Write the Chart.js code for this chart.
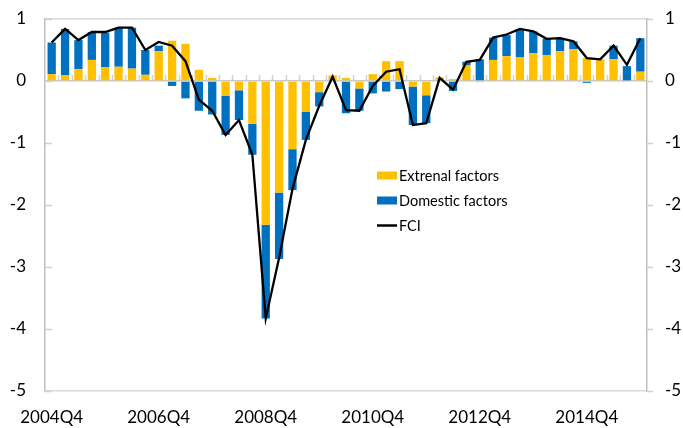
<!DOCTYPE html>
<html>
<head>
<meta charset="utf-8">
<script src="https://cdn.jsdelivr.net/npm/chart.js@4/dist/chart.umd.min.js"></script>
<style>
  body { margin: 0; background: #fff; }
  #wrap { width: 683px; height: 428px; }
</style>
</head>
<body>
<div id="wrap"><canvas id="fci"></canvas></div>
<script>
// quarters 2004Q4 .. 2015Q4
const quarters = [];
for (let y = 2004, q = 4; y < 2016; ) {
  quarters.push(y + 'Q' + q);
  q++;
  if (q > 4) { q = 1; y++; }
}

const externalFactors = [
  0.11, 0.09, 0.19, 0.34, 0.22, 0.23, 0.20, 0.10, 0.48, 0.65,
  0.60, 0.18, 0.05, -0.24, -0.15, -0.69, -2.32, -1.80, -1.10, -0.50,
  -0.18, 0.09, 0.05, -0.12, 0.11, 0.32, 0.32, -0.09, -0.23, 0.06,
  0.03, 0.25, -0.02, 0.34, 0.40, 0.38, 0.45, 0.42, 0.48, 0.51,
  0.37, 0.35, 0.35, 0.01, 0.15,
];

const domesticFactors = [
  0.51, 0.75, 0.47, 0.45, 0.56, 0.63, 0.66, 0.40, 0.09, -0.08,
  -0.28, -0.48, -0.54, -0.63, -0.48, -0.50, -1.51, -1.07, -0.66, -0.45,
  -0.23, 0.00, -0.52, -0.36, -0.20, -0.17, -0.13, -0.62, -0.45, 0.00,
  -0.16, 0.06, 0.35, 0.36, 0.34, 0.46, 0.35, 0.26, 0.20, 0.13,
  -0.03, 0.00, 0.22, 0.23, 0.54,
];

const fci = [
  0.62, 0.84, 0.66, 0.79, 0.79, 0.86, 0.86, 0.50, 0.63, 0.57,
  0.32, -0.30, -0.48, -0.87, -0.63, -1.19, -3.83, -2.85, -1.74, -0.95,
  -0.40, 0.07, -0.47, -0.48, -0.08, 0.15, 0.19, -0.71, -0.68, 0.05,
  -0.14, 0.31, 0.34, 0.70, 0.75, 0.84, 0.80, 0.68, 0.69, 0.64,
  0.37, 0.35, 0.57, 0.26, 0.69,
];

const yTicks = [1, 0, -1, -2, -3, -4, -5];

const YELLOW = '#ffc000';
const BLUE = '#0070c0';
const FONT = 'Lato, "Open Sans", sans-serif';

// small inward/outward tick marks like the spreadsheet axes
const axisMarks = {
  id: 'axisMarks',
  beforeDatasetsDraw(chart) {
    const { ctx, chartArea, scales } = chart;
    const x = scales.x, y = scales.y;
    ctx.save();
    ctx.strokeStyle = '#d0d0d0';
    ctx.lineWidth = 1.5;
    ctx.beginPath();
    yTicks.forEach((v) => {
      const py = Math.round(y.getPixelForValue(v)) + 0.5;
      ctx.moveTo(chartArea.left, py);
      ctx.lineTo(chartArea.left + 7, py);
      ctx.moveTo(chartArea.right, py);
      ctx.lineTo(chartArea.right + 6, py);
    });
    const y0 = Math.round(y.getPixelForValue(0));
    for (let i = 1; i < quarters.length; i++) {
      const px = Math.round((x.getPixelForValue(i - 1) + x.getPixelForValue(i)) / 2) + 0.5;
      ctx.moveTo(px, y0 - 6);
      ctx.lineTo(px, y0);
    }
    ctx.stroke();
    ctx.restore();
  },
};

// legend sitting inside the plot
const innerLegend = {
  id: 'innerLegend',
  afterDraw(chart) {
    const { ctx } = chart;
    const left = 377, top = 175.5, gap = 25;
    ctx.save();
    ctx.font = '14.5px ' + FONT;
    ctx.textBaseline = 'middle';
    ctx.fillStyle = '#000';
    chart.data.datasets.forEach((ds, i) => {
      const cy = top + gap * i;
      if (ds.type === 'line') {
        ctx.strokeStyle = ds.borderColor;
        ctx.lineWidth = 2.5;
        ctx.beginPath();
        ctx.moveTo(left, cy);
        ctx.lineTo(left + 20, cy);
        ctx.stroke();
      } else {
        ctx.fillStyle = ds.backgroundColor;
        ctx.fillRect(left, cy - 4, 20, 8);
      }
      ctx.fillStyle = '#000';
      ctx.fillText(ds.label, left + 22, cy + 1);
    });
    ctx.restore();
  },
};

const gridColor = (c) => {
  const v = c.tick && c.tick.value;
  if (v === 0) return '#c8c8c8';
  if (v === 1 || v === -5) return '#d9d9d9';
  return 'rgba(0,0,0,0)';
};

// fixed axis box sizes so the plot lands at 45..647 x 19..391
const fixLeft = (s) => { s.width = 45; s.paddingTop = 0; s.paddingBottom = 0; };
const fixRight = (s) => { s.width = 36; s.paddingTop = 0; s.paddingBottom = 0; };

new Chart(document.getElementById('fci'), {
  data: {
    labels: quarters,
    datasets: [
      {
        type: 'bar',
        label: 'Extrenal factors',
        data: externalFactors,
        backgroundColor: YELLOW,
        barPercentage: 0.62,
        categoryPercentage: 1,
        order: 2,
      },
      {
        type: 'bar',
        label: 'Domestic factors',
        data: domesticFactors,
        backgroundColor: BLUE,
        barPercentage: 0.62,
        categoryPercentage: 1,
        order: 2,
      },
      {
        type: 'line',
        label: 'FCI',
        data: fci,
        stack: 'fci',
        borderColor: '#000',
        borderWidth: 2.3,
        pointRadius: 0,
        tension: 0,
        order: 1,
      },
    ],
  },
  options: {
    responsive: true,
    maintainAspectRatio: false,
    animation: false,
    layout: { padding: { top: 19, left: 0, right: 0, bottom: 0 } },
    plugins: {
      legend: { display: false },
      tooltip: { enabled: false },
    },
    scales: {
      x: {
        stacked: true,
        grid: { display: false, drawTicks: false },
        border: { display: false },
        ticks: {
          autoSkip: false,
          maxRotation: 0,
          padding: 16,
          color: '#000',
          font: { family: FONT, size: 17 },
          callback: (v, i) => (i % 8 === 0 ? quarters[i] : null),
        },
        afterFit: (s) => { s.height = 37; },
      },
      y: {
        stacked: true,
        min: -5,
        max: 1,
        ticks: {
          stepSize: 1,
          padding: 19,
          color: '#000',
          font: { family: FONT, size: 17 },
        },
        grid: { color: gridColor, lineWidth: 1.5, drawTicks: false },
        border: { color: '#bfbfbf', width: 1.5 },
        afterFit: fixLeft,
      },
      y2: {
        position: 'right',
        min: -5,
        max: 1,
        ticks: {
          stepSize: 1,
          padding: 18,
          color: '#000',
          font: { family: FONT, size: 17 },
        },
        grid: { display: false, drawTicks: false },
        border: { color: '#bfbfbf', width: 1.5 },
        afterFit: fixRight,
      },
    },
  },
  plugins: [axisMarks, innerLegend],
});
</script>
</body>
</html>
